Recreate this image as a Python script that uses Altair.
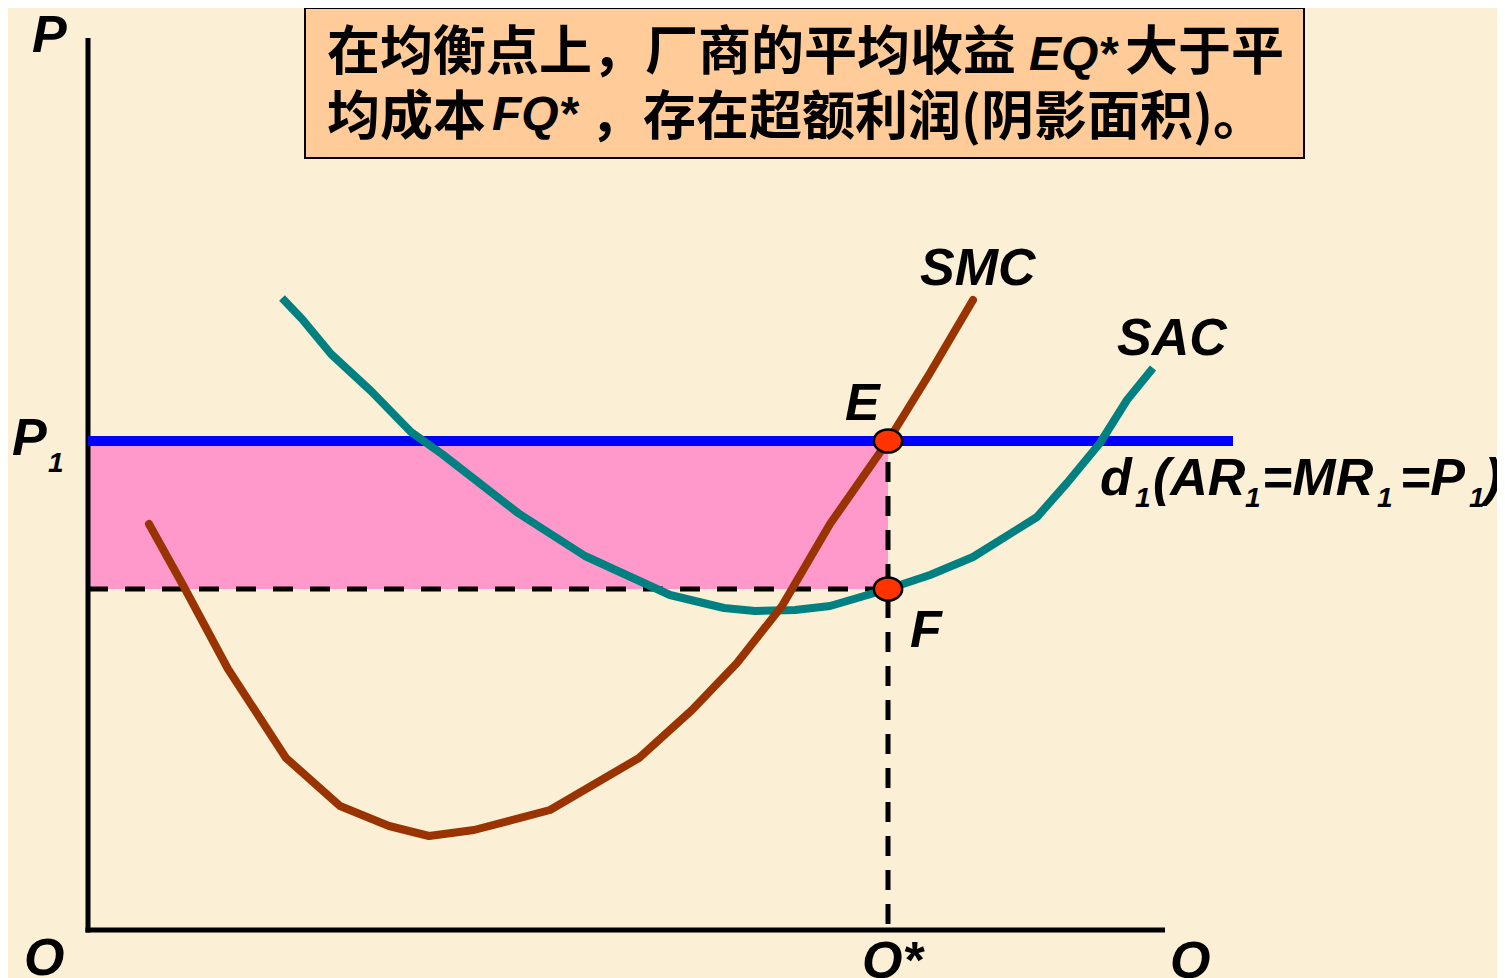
import altair as alt
import pandas as pd

# ---------------- data (economic units: Q horizontal, P vertical) ----------------
SMC_Q = [6.1, 9.6, 14.0, 19.8, 25.2, 30.1, 34.1, 38.6, 46.2, 55.1, 60.4, 64.9, 69.4, 74.2, 80.0, 84.2, 88.5]
SMC_P = [40.6, 34.3, 26.1, 17.2, 12.4, 10.4, 9.4, 10.0, 12.0, 17.2, 22.0, 26.7, 32.4, 40.6, 48.9, 55.7, 63.0]

SAC_Q = [19.4, 21.4, 24.3, 28.3, 32.3, 35.4, 43.0, 49.7, 58.2, 63.6, 66.7, 70.7, 74.2, 80.0, 84.2, 88.5, 94.9, 97.9, 101.2, 103.9, 106.5]
SAC_P = [63.2, 61.1, 57.6, 53.9, 49.8, 47.6, 41.7, 37.4, 33.5, 32.2, 31.9, 32.0, 32.4, 34.1, 35.5, 37.3, 41.3, 44.7, 48.7, 53.0, 56.2]

P1 = 48.9          # price line d1
Q_STAR = 80.0      # equilibrium output
P_F = 34.1         # average cost at Q*
D_END = 114.5      # end of demand line
X_AXIS_END = 107.7
Y_AXIS_END = 89.2

BOX_Q = [21.7, 121.6]
BOX_P = [77.2, 92.2]

# labels: text, q, p
BIG_LABELS = ["P", "P", "SMC", "SAC", "E", "F", "O", "Q*", "Q", "d", "(AR", "=MR", "=P", ")"]
BIG_Q = [-5.6, -7.6, 83.2, 102.9, 75.7, 82.2, -6.4, 77.4, 108.2, 101.2, 106.5, 117.4, 131.2, 139.6]
BIG_P = [87.8, 47.5, 64.5, 57.5, 51.0, 28.3, -4.5, -4.8, -4.8, 43.5, 43.5, 43.5, 43.5, 43.5]

SUB_LABELS = ["1", "1", "1", "1", "1"]
SUB_Q = [-4.0, 104.7, 115.7, 128.9, 138.1]
SUB_P = [45.8, 42.3, 42.3, 42.3, 42.3]

CJK_TEXT = ["在均衡点上，厂商的平均收益", "大于平", "均成本", "，存在超额利润(阴影面积)。"]
CJK_Q = [23.9, 103.7, 23.9, 50.2]
CJK_P = [86.0, 86.0, 79.5, 79.5]

LAT_TEXT = ["EQ*", "FQ*"]
LAT_Q = [94.1, 40.4]
LAT_P = [86.0, 80.0]

# ---------------- scales ----------------
XS = alt.Scale(domain=[-8.0, 140.9], nice=False, zero=False)
YS = alt.Scale(domain=[-4.8, 92.2], nice=False, zero=False)


def X(f="q"):
    return alt.X(f"{f}:Q", scale=XS, axis=None)


def Y(f="p"):
    return alt.Y(f"{f}:Q", scale=YS, axis=None)


box_df = pd.DataFrame({"q": [BOX_Q[0]], "q2": [BOX_Q[1]], "p": [BOX_P[0]], "p2": [BOX_P[1]]})
box = alt.Chart(box_df).mark_rect(fill="#FFCC99", stroke="#000000", strokeWidth=2).encode(
    x=X("q"), x2="q2", y=Y("p"), y2="p2")

rect_df = pd.DataFrame({"q": [0.0], "q2": [Q_STAR], "p": [P_F], "p2": [P1]})
profit = alt.Chart(rect_df).mark_rect(fill="#FF99CC").encode(x=X("q"), x2="q2", y=Y("p"), y2="p2")

hdash_df = pd.DataFrame({"q": [0.0], "q2": [Q_STAR], "p": [P_F]})
hdash = alt.Chart(hdash_df).mark_rule(color="#000000", strokeWidth=5, strokeDash=[20, 17]).encode(
    x=X("q"), x2="q2", y=Y("p"))

vdash_df = pd.DataFrame({"q": [Q_STAR], "p": [0.6], "p2": [P1]})
vdash = alt.Chart(vdash_df).mark_rule(color="#000000", strokeWidth=5, strokeDash=[20, 14]).encode(
    x=X("q"), y=Y("p"), y2="p2")

yaxis_df = pd.DataFrame({"q": [0.0], "p": [-0.25], "p2": [Y_AXIS_END]})
yaxis = alt.Chart(yaxis_df).mark_rule(color="#000000", strokeWidth=5).encode(x=X("q"), y=Y("p"), y2="p2")

xaxis_df = pd.DataFrame({"q": [-0.25], "q2": [X_AXIS_END], "p": [0.0]})
xaxis = alt.Chart(xaxis_df).mark_rule(color="#000000", strokeWidth=5).encode(x=X("q"), x2="q2", y=Y("p"))

dline_df = pd.DataFrame({"q": [0.0], "q2": [D_END], "p": [P1]})
dline = alt.Chart(dline_df).mark_rule(color="#0000FF", strokeWidth=10).encode(x=X("q"), x2="q2", y=Y("p"))

sac_df = pd.DataFrame({"q": SAC_Q, "p": SAC_P, "i": list(range(len(SAC_Q)))})
sac = alt.Chart(sac_df).mark_line(color="#008080", strokeWidth=8, strokeCap="butt", strokeJoin="round").encode(
    x=X(), y=Y(), order="i:O")

smc_df = pd.DataFrame({"q": SMC_Q, "p": SMC_P, "i": list(range(len(SMC_Q)))})
smc = alt.Chart(smc_df).mark_line(color="#993300", strokeWidth=8, strokeCap="round", strokeJoin="round").encode(
    x=X(), y=Y(), order="i:O")

pts_df = pd.DataFrame({"q": [Q_STAR, Q_STAR], "p": [P1, P_F]})
ELLIPSE = "M-1,0 A1,0.82 0 1,0 1,0 A1,0.82 0 1,0 -1,0 Z"
pts = alt.Chart(pts_df).mark_point(shape=ELLIPSE, size=800, filled=True, fill="#FF3300",
                                   stroke="#000000", strokeWidth=2.5, opacity=1).encode(x=X(), y=Y())

big_df = pd.DataFrame({"t": BIG_LABELS, "q": BIG_Q, "p": BIG_P})
big = alt.Chart(big_df).mark_text(font="Liberation Sans", fontSize=52, fontWeight="bold", fontStyle="italic",
                                  align="left", baseline="alphabetic", color="#000000").encode(
    x=X(), y=Y(), text="t:N")

sub_df = pd.DataFrame({"t": SUB_LABELS, "q": SUB_Q, "p": SUB_P})
sub = alt.Chart(sub_df).mark_text(font="Liberation Sans", fontSize=28, fontWeight="bold", fontStyle="italic",
                                  align="left", baseline="alphabetic", color="#000000").encode(
    x=X(), y=Y(), text="t:N")

cjk_df = pd.DataFrame({"t": CJK_TEXT, "q": CJK_Q, "p": CJK_P})
cjk = alt.Chart(cjk_df).mark_text(font="Noto Sans CJK SC", fontSize=53, fontWeight="bold",
                                  align="left", baseline="alphabetic", color="#000000").encode(
    x=X(), y=Y(), text="t:N")

lat_df = pd.DataFrame({"t": LAT_TEXT, "q": LAT_Q, "p": LAT_P})
lat = alt.Chart(lat_df).mark_text(font="Liberation Sans", fontSize=48, fontWeight="bold", fontStyle="italic",
                                  align="left", baseline="alphabetic", color="#000000").encode(
    x=X(), y=Y(), text="t:N")

chart = alt.layer(
    box, profit, hdash, vdash, yaxis, xaxis, dline, sac, smc, pts, big, sub, cjk, lat
).properties(
    width=1489, height=970, padding=0, background="#FBEFD6",
    autosize=alt.AutoSizeParams(type="none"),
).configure_view(strokeWidth=0)

chart.save("out.html", embed_options={"renderer": "svg", "actions": False})
